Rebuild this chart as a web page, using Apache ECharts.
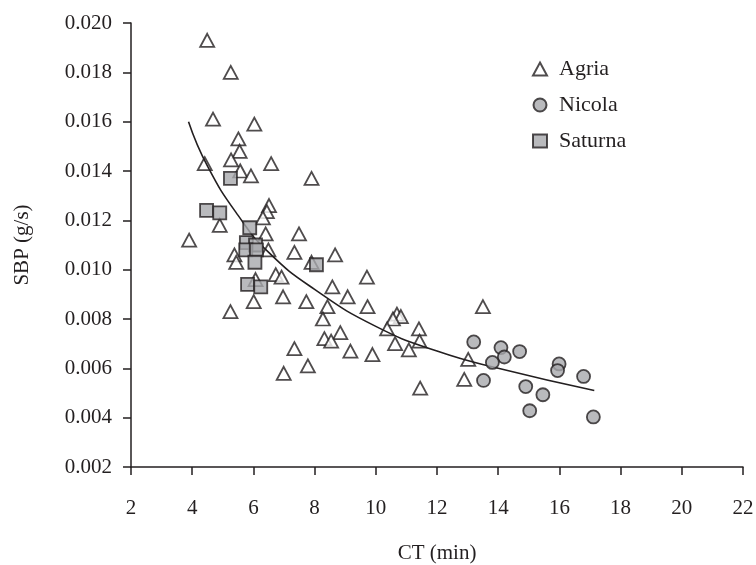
<!DOCTYPE html>
<html>
<head>
<meta charset="utf-8">
<script src="https://cdn.jsdelivr.net/npm/echarts@6/dist/echarts.min.js"></script>
<style>
  html, body { margin: 0; padding: 0; background: #fff; }
  #chart { width: 756px; height: 565px; }
</style>
</head>
<body>
<div id="chart"></div>
<script>
// CT (min), SBP (g/s)
var agria = [
    [4.49, 0.0193], [5.26, 0.0180], [4.68, 0.0161], [6.03, 0.0159], [5.51, 0.0153],
    [5.55, 0.0148], [4.41, 0.0143], [5.27, 0.01445], [6.58, 0.0143], [5.57, 0.0140],
    [5.92, 0.0138], [7.90, 0.0137], [6.51, 0.0126], [6.44, 0.01235], [6.31, 0.0121],
    [4.90, 0.0118], [3.90, 0.0112], [6.40, 0.01145], [7.49, 0.01145], [5.38, 0.0106],
    [5.44, 0.0103], [6.49, 0.0108], [7.34, 0.0107], [7.90, 0.0103], [8.67, 0.0106],
    [6.73, 0.0098], [6.92, 0.0097], [6.07, 0.0096], [9.71, 0.0097], [6.01, 0.0087],
    [6.97, 0.0089], [5.25, 0.0083], [7.73, 0.0087], [8.58, 0.0093], [9.08, 0.0089],
    [8.42, 0.0085], [9.73, 0.0085], [8.27, 0.0080], [8.84, 0.00745], [8.32, 0.0072],
    [8.54, 0.0071], [7.34, 0.0068], [9.17, 0.0067], [9.89, 0.00656], [7.78, 0.0061],
    [6.99, 0.0058], [10.69, 0.0082], [10.82, 0.0081], [10.56, 0.0080], [10.37, 0.0076],
    [11.41, 0.0076], [10.63, 0.0070], [11.43, 0.0071], [11.08, 0.00675], [11.45, 0.0052],
    [13.02, 0.00636], [12.89, 0.00555], [13.50, 0.0085]
];

var nicola = [
    [13.20, 0.00707], [14.09, 0.00684], [14.20, 0.00646], [13.81, 0.00624], [14.70, 0.00668],
    [13.52, 0.00551], [15.99, 0.00618], [15.94, 0.00591], [16.79, 0.00567], [14.90, 0.00526],
    [15.46, 0.00493], [15.03, 0.00428], [17.11, 0.00403]
];

var saturna = [
    [4.47, 0.0124], [4.90, 0.0123], [5.25, 0.0137], [5.88, 0.0117], [5.77, 0.0111],
    [6.07, 0.0110], [5.75, 0.0108], [6.10, 0.0108], [6.05, 0.0103], [5.81, 0.0094],
    [6.24, 0.0093], [8.06, 0.0102]
];

// points
var trend = [
    [3.88, 0.0160], [4.5, 0.0142], [5.5, 0.0122], [6.5, 0.0107], [8, 0.0092],
    [10, 0.0077], [12, 0.0067], [14, 0.0060], [17.14, 0.0051]
];

var ink = '#231f20';
var grey = '#a7a9ac';
var font = 'Liberation Serif';

var chart = echarts.init(document.getElementById('chart'), null, { renderer: 'canvas' });

var option = {
    animation: false,
    backgroundColor: '#fff',
    textStyle: { fontFamily: font, color: ink },
    grid: { left: 131, right: 13, top: 23, bottom: 98, containLabel: false, outerBoundsMode: 'none' },
    legend: {
        orient: 'vertical',
        left: 527,
        top: 53,
        itemWidth: 14,
        itemHeight: 13,
        itemGap: 14,
        data: ['Agria', 'Nicola', 'Saturna'],
        textStyle: { fontFamily: font, fontSize: 22, color: ink, padding: [0, 0, 0, 7] }
    },
    xAxis: {
        type: 'value',
        min: 2, max: 22, interval: 2,
        name: 'CT (min)',
        nameLocation: 'middle',
        nameGap: 76,
        nameTextStyle: { fontFamily: font, fontSize: 21, color: ink },
        axisLine: { show: true, lineStyle: { color: ink, width: 1.5 } },
        axisTick: { show: true, inside: false, length: 8, lineStyle: { color: ink, width: 1.5 } },
        axisLabel: { margin: 31, fontFamily: font, fontSize: 21, color: ink },
        splitLine: { show: false }
    },
    yAxis: {
        type: 'value',
        min: 0.002, max: 0.020, interval: 0.002,
        name: 'SBP (g/s)',
        nameLocation: 'middle',
        nameGap: 98,
        nameRotate: 90,
        nameTextStyle: { fontFamily: font, fontSize: 21, color: ink },
        axisLine: { show: true, lineStyle: { color: ink, width: 1.5 } },
        axisTick: { show: true, inside: false, length: 8, lineStyle: { color: ink, width: 1.5 } },
        axisLabel: {
            margin: 19, fontFamily: font, fontSize: 21, color: ink,
            formatter: function (v) { return v.toFixed(3); }
        },
        splitLine: { show: false }
    },
    series: [
        {
            name: 'trend',
            type: 'line',
            data: trend,
            smooth: true,
            showSymbol: false,
            silent: true,
            lineStyle: { color: ink, width: 1.6 },
            z: 3
        },
        {
            name: 'Agria',
            type: 'scatter',
            data: agria,
            symbol: 'triangle',
            symbolSize: [14, 13],
            itemStyle: { color: '#fff', borderColor: ink, borderWidth: 1.8 },
            z: 2
        },
        {
            name: 'Nicola',
            type: 'scatter',
            data: nicola,
            symbol: 'circle',
            symbolSize: 13,
            itemStyle: { color: grey, borderColor: ink, borderWidth: 1.8 },
            z: 4
        },
        {
            name: 'Saturna',
            type: 'scatter',
            data: saturna,
            symbol: 'rect',
            symbolSize: 13,
            itemStyle: { color: grey, borderColor: ink, borderWidth: 1.8 },
            z: 4
        }
    ]
};

option && chart.setOption(option);

window.addEventListener('resize', function () { chart.resize(); });
</script>
</body>
</html>
